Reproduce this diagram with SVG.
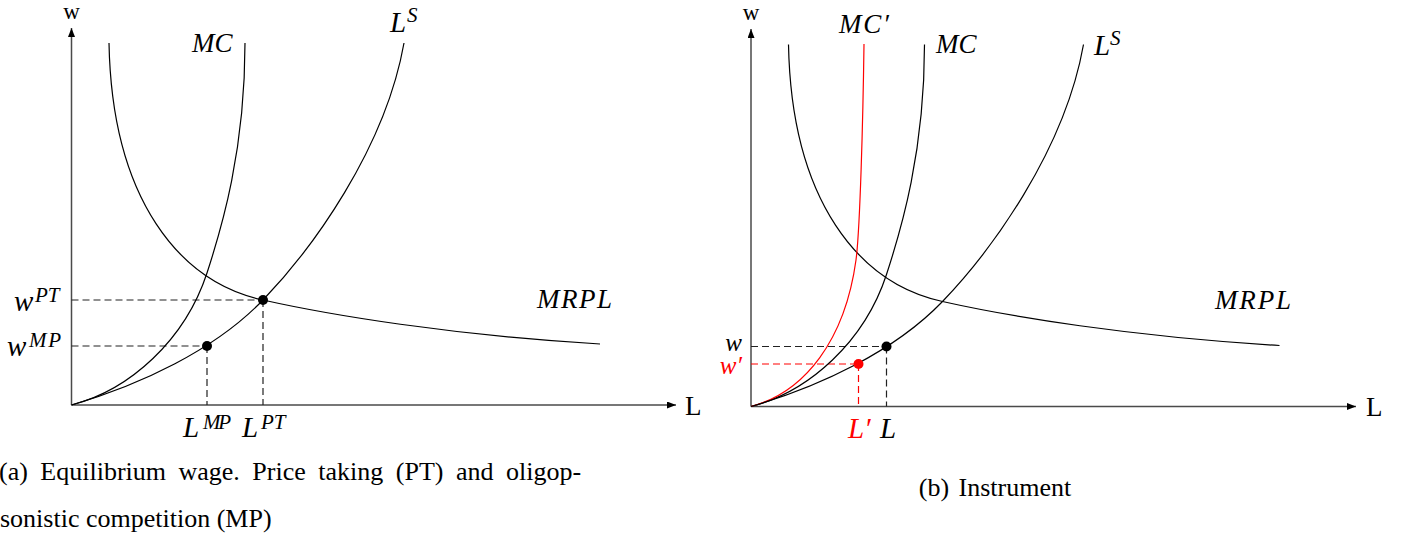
<svg xmlns="http://www.w3.org/2000/svg" width="1405" height="536" viewBox="0 0 1405 536">
<style>
  .axis{stroke:#4a4a4a;stroke-width:1.5;fill:none}
  .curve{stroke:#000;stroke-width:1.2;fill:none}
  .redc{stroke:#f00;stroke-width:1.2;fill:none}
  .dash{stroke:#222;stroke-width:1.2;stroke-dasharray:7 4;fill:none}
  .rdash{stroke:#f00;stroke-width:1.2;stroke-dasharray:7 4;fill:none}
  text{font-family:"Liberation Serif",serif;fill:#000}
  .it{font-style:italic}
  .lab{font-size:29px}
  .sup{font-size:21px}
  .mid{font-size:27px}
  .ax{font-size:27px}
  .cap{font-size:26px}
  .red{fill:#f00}
</style>
<defs>
  <marker id="arr" markerUnits="userSpaceOnUse" markerWidth="10" markerHeight="8" refX="9" refY="3.5" orient="auto">
    <path d="M0,0 L9,3.5 L0,7 z" fill="#000"/>
  </marker>
  <g id="curves">
    <path id="mrpl" class="curve" d="M109,43 C112,200 180,282 263,300 C330,315 450,335 600,344"/>
    <path id="mc" class="curve" d="M71.5,405 C130,390 185,340 207,273 C222,227 245,150 245,43"/>
    <path id="ls" class="curve" d="M71.5,405 C140,385 215,350 263,300 C311,250 385,150 404,43"/>
  </g>
</defs>

<g id="panel-a">
  <g id="axes-a">
    <line class="axis" x1="71.5" y1="405" x2="71.5" y2="28" marker-end="url(#arr)"/>
    <line class="axis" x1="71.5" y1="405" x2="676" y2="405" marker-end="url(#arr)"/>
    <text x="71.5" y="19" font-size="23" text-anchor="middle">w</text>
    <text x="685" y="415" class="ax">L</text>
  </g>
  <g id="connectors-a">
    <path class="dash" d="M71.5,300 H263 M263,300 V405 M71.5,346 H207 M207,346 V405"/>
  </g>
  <g id="curve-mrpl-a"><use href="#mrpl"/><text class="it mid" x="537" y="308" textLength="75">MRPL</text></g>
  <g id="curve-mc-a"><use href="#mc"/><text class="it mid" x="192" y="52">MC</text></g>
  <g id="curve-ls-a"><use href="#ls"/><text class="it lab" x="390" y="32">L</text><text class="it sup" x="407" y="22">S</text></g>
  <g id="pt-a">
    <circle cx="263" cy="300" r="5" fill="#000"/>
    <text class="it lab" x="14" y="311">w</text><text class="it sup" x="35" y="302">PT</text>
    <text class="it lab" x="242" y="437">L</text><text class="it sup" x="261" y="429">PT</text>
  </g>
  <g id="mp-a">
    <circle cx="207" cy="346" r="5" fill="#000"/>
    <text class="it lab" x="7" y="356">w</text><text class="it sup" x="29" y="347" textLength="32">MP</text>
    <text class="it lab" x="183" y="437">L</text><text class="it sup" x="203" y="429" textLength="28">MP</text>
  </g>
  <g id="caption-a">
    <text class="cap" x="-1" y="480" word-spacing="6">(a) Equilibrium wage. Price taking (PT) and oligop-</text>
    <text class="cap" x="0" y="527">sonistic competition (MP)</text>
  </g>
</g>

<g id="panel-b">
  <g id="axes-b">
    <line class="axis" x1="751" y1="406.5" x2="751" y2="29" marker-end="url(#arr)"/>
    <line class="axis" x1="751" y1="406.5" x2="1356" y2="406.5" marker-end="url(#arr)"/>
    <text x="751" y="20" font-size="23" text-anchor="middle">w</text>
    <text x="1366" y="416" class="ax">L</text>
  </g>
  <g id="connectors-b">
    <path class="dash" d="M751,346.5 H886.5 M886.5,346.5 V406.5"/>
    <path class="rdash" d="M751,364 H858.5 M858.5,364 V406.5"/>
  </g>
  <g id="curve-mrpl-b"><use href="#mrpl" transform="translate(679.5,1.5)"/><text class="it mid" x="1215" y="309" textLength="76">MRPL</text></g>
  <g id="curve-mc-b"><use href="#mc" transform="translate(679.5,1.5)"/><text class="it mid" x="936" y="53">MC</text></g>
  <g id="curve-mcp-b">
    <path class="redc" d="M751,406.5 C805,392 845,340 856,260 C860,230 863,120 864,44"/>
    <text class="it mid" x="839" y="33" textLength="50">MC′</text>
  </g>
  <g id="curve-ls-b"><use href="#ls" transform="translate(679.5,1.5)"/><text class="it lab" x="1094" y="55">L</text><text class="it sup" x="1110" y="45">S</text></g>
  <g id="eq-b">
    <circle cx="886.5" cy="346.5" r="5" fill="#000"/>
    <text class="it" font-size="25" x="742" y="351" text-anchor="end">w</text>
    <text class="it lab" x="880" y="438">L</text>
  </g>
  <g id="eq-b-red">
    <circle cx="858.5" cy="364" r="5" fill="#f00"/>
    <text class="it red" font-size="25" x="742" y="374" text-anchor="end">w′</text>
    <text class="it lab red" x="848" y="438">L′</text>
  </g>
  <g id="caption-b">
    <text class="cap" x="995" y="496" text-anchor="middle" word-spacing="3">(b) Instrument</text>
  </g>
</g>
</svg>
